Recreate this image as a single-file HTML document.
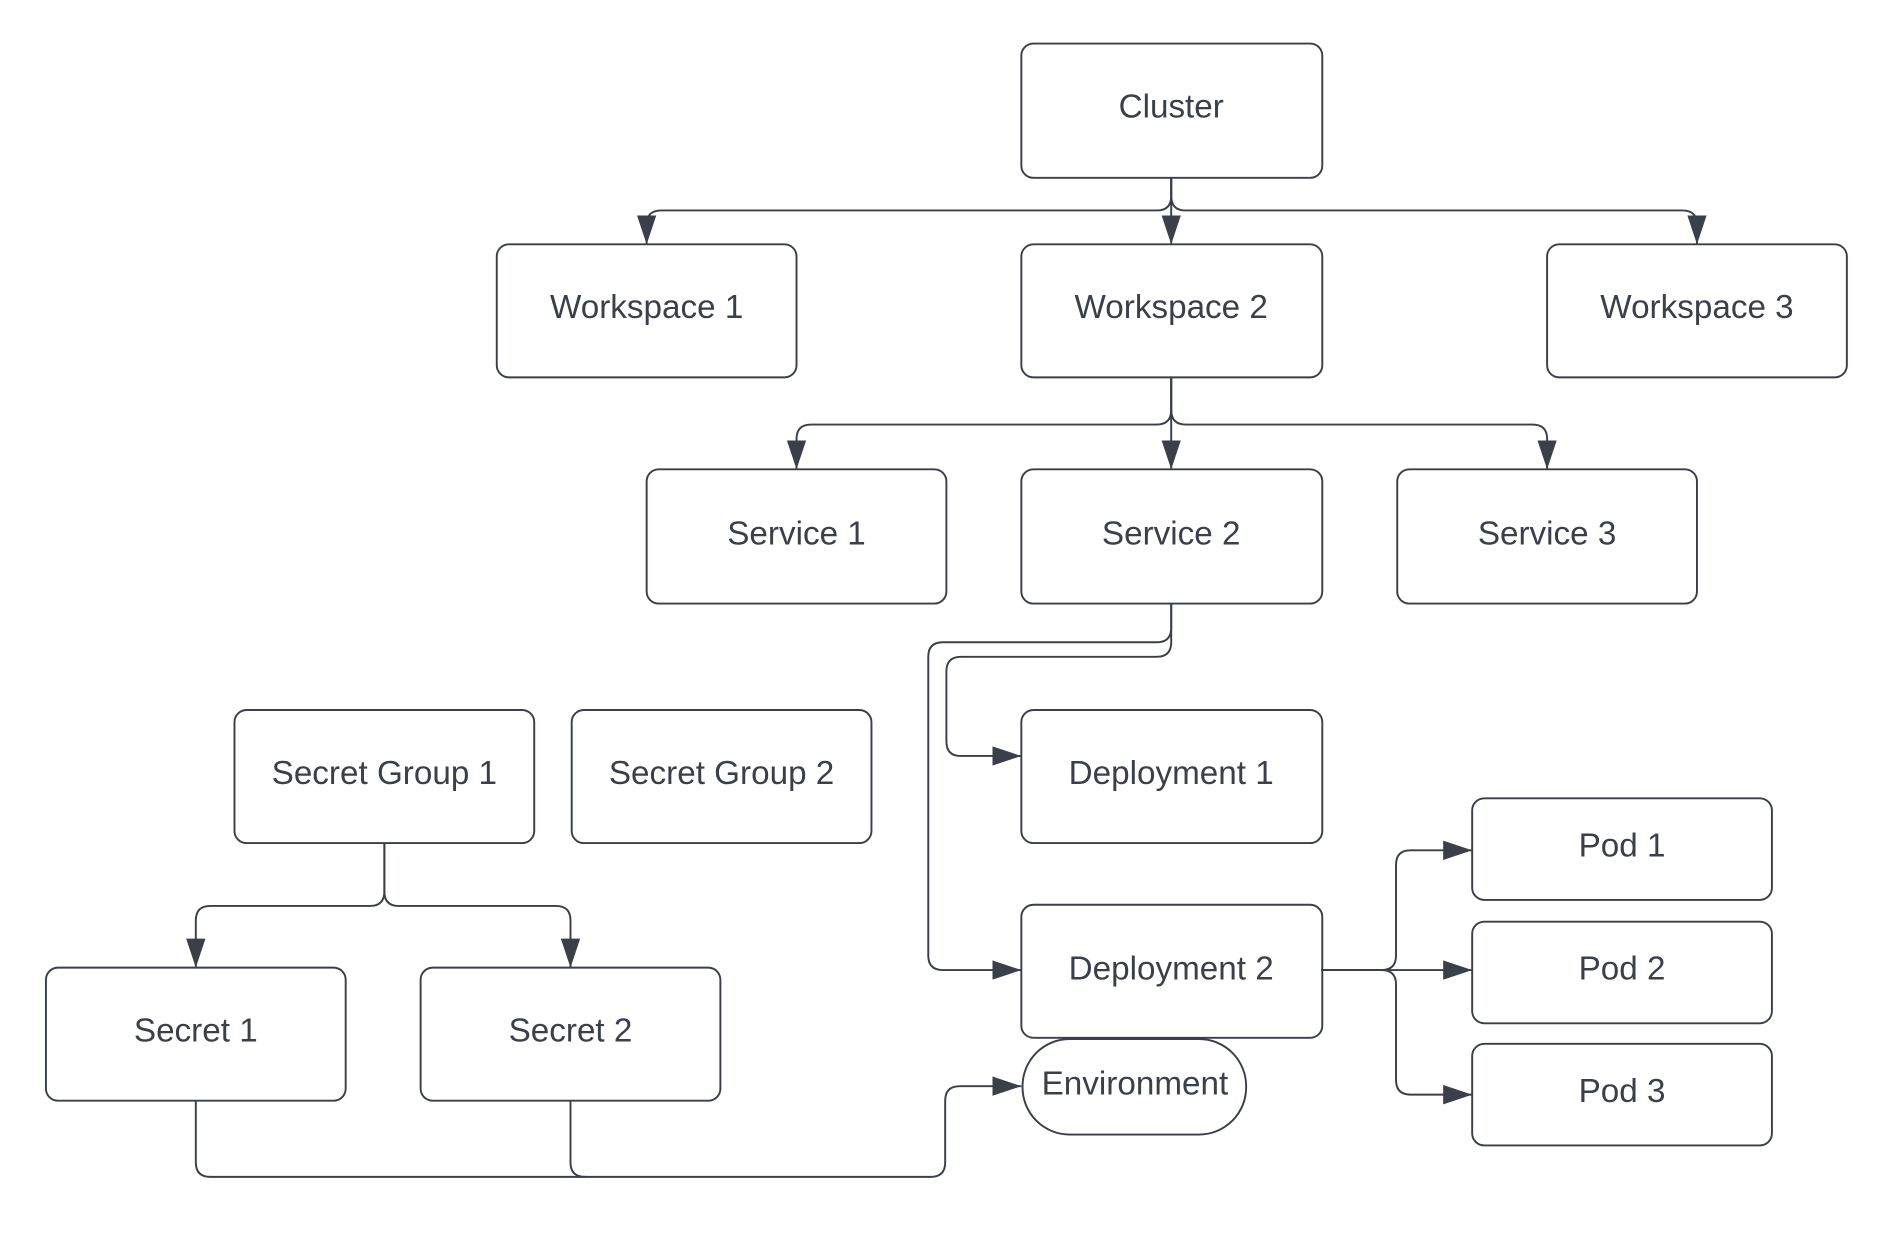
<!DOCTYPE html>
<html><head><meta charset="utf-8"><style>
html,body{margin:0;padding:0;background:#fff}
svg{display:block}
text{font-family:"Liberation Sans",Arial,sans-serif;font-size:27.5px;fill:#3a3f4a}
</style></head><body>
<svg width="1894" height="1241" viewBox="0 0 1567 1026" preserveAspectRatio="none" xmlns="http://www.w3.org/2000/svg">
<defs>
<marker id="a" markerWidth="24" markerHeight="16" refX="24" refY="8" orient="auto" markerUnits="userSpaceOnUse">
<path d="M0,0 L24,8 L0,16 Z" fill="#3a3f4a"/>
</marker>
</defs>
<g fill="#fff" stroke="#3a3f4a" stroke-width="1.6">
<rect x="845" y="36" width="249" height="111" rx="10"/>
<rect x="411" y="202" width="248" height="110" rx="10"/>
<rect x="845" y="202" width="249" height="110" rx="10"/>
<rect x="1280" y="202" width="248" height="110" rx="10"/>
<rect x="535" y="388" width="248" height="111" rx="10"/>
<rect x="845" y="388" width="249" height="111" rx="10"/>
<rect x="1156" y="388" width="248" height="111" rx="10"/>
<rect x="194" y="587" width="248" height="110" rx="10"/>
<rect x="473" y="587" width="248" height="110" rx="10"/>
<rect x="845" y="587" width="249" height="110" rx="10"/>
<rect x="845" y="748" width="249" height="110" rx="10"/>
<rect x="1218" y="660" width="248" height="84" rx="10"/>
<rect x="1218" y="762" width="248" height="84" rx="10"/>
<rect x="1218" y="863" width="248" height="84" rx="10"/>
<rect x="38" y="800" width="248" height="110" rx="10"/>
<rect x="348" y="800" width="248" height="110" rx="10"/>
<rect x="846" y="859" width="185" height="79" rx="39"/>
</g>
<g fill="none" stroke="#3a3f4a" stroke-width="1.6" marker-end="url(#a)">
<path d="M969,147 V162 Q969,174 957,174 H547 Q535,174 535,186 V202"/>
<path d="M969,147 V202"/>
<path d="M969,147 V162 Q969,174 981,174 H1392 Q1404,174 1404,186 V202"/>
<path d="M969,312 V339 Q969,351 957,351 H671 Q659,351 659,363 V388"/>
<path d="M969,312 V388"/>
<path d="M969,312 V339 Q969,351 981,351 H1268 Q1280,351 1280,363 V388"/>
<path d="M969,499 V531 Q969,543 957,543 H795 Q783,543 783,555 V613 Q783,625 795,625 H845"/>
<path d="M969,499 V519 Q969,531 957,531 H780 Q768,531 768,543 V790 Q768,802 780,802 H845"/>
<path d="M1093,802 H1143 Q1155,802 1155,790 V715 Q1155,703 1167,703 H1218"/>
<path d="M1093,802 H1218"/>
<path d="M1093,802 H1143 Q1155,802 1155,814 V893 Q1155,905 1167,905 H1218"/>
<path d="M318,697 V737 Q318,749 306,749 H174 Q162,749 162,761 V800"/>
<path d="M318,697 V737 Q318,749 330,749 H460 Q472,749 472,761 V800"/>
<path d="M162,910 V961 Q162,973 174,973 H770 Q782,973 782,961 V910 Q782,898 794,898 H845"/>
<path d="M472,910 V961 Q472,973 484,973" marker-end="none"/>
</g>
<g text-anchor="middle">
<text x="969" y="97">Cluster</text>
<text x="535" y="263">Workspace 1</text>
<text x="969" y="263">Workspace 2</text>
<text x="1404" y="263">Workspace 3</text>
<text x="659" y="450">Service 1</text>
<text x="969" y="450">Service 2</text>
<text x="1280" y="450">Service 3</text>
<text x="318" y="648">Secret Group 1</text>
<text x="597" y="648">Secret Group 2</text>
<text x="969" y="648">Deployment 1</text>
<text x="969" y="810">Deployment 2</text>
<text x="1342" y="708">Pod 1</text>
<text x="1342" y="810">Pod 2</text>
<text x="1342" y="911">Pod 3</text>
<text x="162" y="861">Secret 1</text>
<text x="472" y="861">Secret 2</text>
<text x="939" y="905">Environment</text>
</g>
</svg>
</body></html>
